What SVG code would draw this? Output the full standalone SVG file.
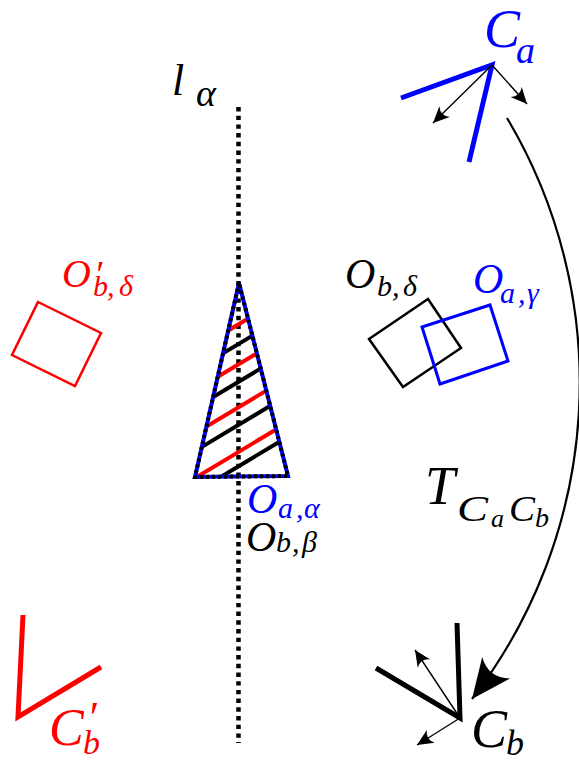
<svg xmlns="http://www.w3.org/2000/svg" width="579" height="763" viewBox="0 0 579 763">
<style>
text{font-family:"Liberation Serif","DejaVu Serif",serif;font-style:italic}
.big{font-size:54px}
.o{font-size:42px}
.s{font-size:30px}
.blue{fill:#0000ff}
.red{fill:#ff0000}
.blk{fill:#000}
.thin{stroke:#000;stroke-width:1.4;fill:none;marker-end:url(#sa)}
.axis{stroke-width:5;fill:none;stroke-linecap:butt}
</style>
<defs>
<marker id="sa" markerUnits="userSpaceOnUse" markerWidth="20" markerHeight="20" viewBox="-14 -8 16 16" refX="0" refY="0" orient="auto">
<path d="M0,0 L-13,-6 Q-8,0 -13,6 Z" fill="#000"/>
</marker>
<marker id="ba" markerUnits="userSpaceOnUse" markerWidth="44" markerHeight="44" viewBox="-38 -20 40 40" refX="0" refY="0" orient="auto">
<path d="M0,0 L-36,-16 Q-24,0 -36,16 Z" fill="#000"/>
</marker>
<clipPath id="tri"><polygon points="239,283 195,477 288,476"/></clipPath>
</defs>

<g id="l-alpha">
<line x1="238.5" y1="107" x2="238.5" y2="743" stroke="#000" stroke-width="4.5" stroke-dasharray="4.4 4.3"/>
<text class="blk" x="172" y="95" font-size="44">l<tspan x="196" y="106" font-size="38">α</tspan></text>
</g>

<g id="O-alpha-beta">
<g clip-path="url(#tri)" stroke-width="4">
<line x1="150" y1="377.4" x2="330" y2="269.4" stroke="#ff0000"/>
<line x1="150" y1="397.1" x2="330" y2="289.1" stroke="#000"/>
<line x1="150" y1="417.4" x2="330" y2="309.4" stroke="#ff0000"/>
<line x1="150" y1="434.9" x2="330" y2="326.9" stroke="#000"/>
<line x1="150" y1="460.4" x2="330" y2="352.4" stroke="#ff0000"/>
<line x1="150" y1="478" x2="330" y2="370" stroke="#000"/>
<line x1="150" y1="505.1" x2="330" y2="397.1" stroke="#ff0000"/>
<line x1="150" y1="519.4" x2="330" y2="411.4" stroke="#000"/>
</g>
<polygon points="239,283 195,477 288,476" fill="none" stroke="#0000ff" stroke-width="4"/>
<polygon points="239,283 195,477 288,476" fill="none" stroke="#000" stroke-width="4" stroke-dasharray="3 3"/>
<text class="o blue" x="247" y="513">O<tspan class="s" x="278" y="518">a</tspan><tspan class="s" x="296" y="518">,</tspan><tspan class="s" x="304" y="518">α</tspan></text>
<text class="o blk" x="246" y="551">O<tspan class="s" x="276" y="552">b</tspan><tspan class="s" x="292" y="552">,</tspan><tspan class="s" x="302" y="552">β</tspan></text>
</g>

<g id="O-b-delta-prime">
<polygon points="38,302 101,333 75,386 12,355" fill="none" stroke="#ff0000" stroke-width="2.5"/>
<text class="red" x="62" y="287" font-size="40">O<tspan x="94" y="287" font-size="38">′</tspan><tspan class="s" x="93" y="296">b</tspan><tspan class="s" x="107" y="296">,</tspan><tspan class="s" x="119" y="296">δ</tspan></text>
</g>

<g id="O-b-delta">
<polygon points="369,339 428,299 461,348 403,387" fill="none" stroke="#000" stroke-width="2.5"/>
<text class="o blk" x="345" y="288">O<tspan class="s" x="377" y="296">b</tspan><tspan class="s" x="392" y="296">,</tspan><tspan class="s" x="403" y="296">δ</tspan></text>
</g>

<g id="O-a-gamma">
<polygon points="422,327 490,305 508,361 440,384" fill="none" stroke="#0000ff" stroke-width="3"/>
<text class="o blue" x="473" y="293">O<tspan class="s" x="500" y="303">a</tspan><tspan class="s" x="518" y="303">,</tspan><tspan class="s" x="527" y="303">γ</tspan></text>
</g>

<g id="C-a">
<polyline class="axis" points="401,98 492,65 469,162" stroke="#0000ff"/>
<line class="thin" x1="492" y1="65" x2="433" y2="123"/>
<line class="thin" x1="492" y1="65" x2="527" y2="104"/>
<text class="big blue" x="484" y="47">C<tspan x="516" y="63" font-size="38">a</tspan></text>
</g>

<g id="C-b">
<polyline class="axis" points="376,668 460,718 457,623" stroke="#000"/>
<line class="thin" x1="460" y1="718" x2="415" y2="650"/>
<line class="thin" x1="460" y1="718" x2="417" y2="745"/>
<text class="big blk" x="471" y="747">C<tspan x="506" y="755" font-size="36">b</tspan></text>
</g>

<g id="C-b-prime">
<polyline class="axis" points="23,615 18,717 101,667" stroke="#ff0000"/>
<text class="red" x="49" y="745" font-size="52">C<tspan x="87" y="732" font-size="44">′</tspan><tspan x="83" y="754" font-size="34">b</tspan></text>
</g>

<g id="connectors">
<path d="M507,118 A518,518 0 0 1 472,699" fill="none" stroke="#000" stroke-width="2.2" marker-end="url(#ba)"/>
<text class="big blk" x="425" y="504">T<tspan x="457" y="521" font-size="36" textLength="31" lengthAdjust="spacingAndGlyphs">C</tspan><tspan x="491" y="527" font-size="26">a</tspan><tspan x="509" y="521" font-size="36" textLength="26" lengthAdjust="spacingAndGlyphs">C</tspan><tspan x="535" y="527" font-size="28">b</tspan></text>
</g>
</svg>
